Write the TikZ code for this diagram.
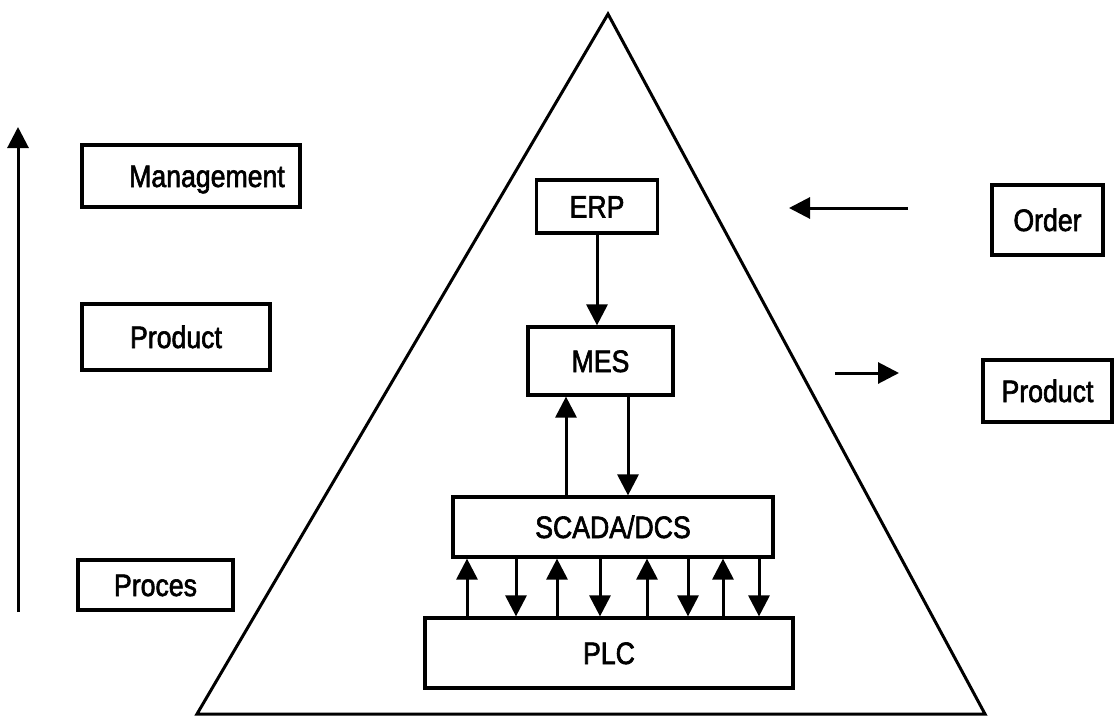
\documentclass[tikz,border=0pt]{standalone}
\usepackage{fontspec}
\setmainfont{Liberation Sans}[FakeStretch=0.86,FakeBold=2]
\usetikzlibrary{arrows.meta}
\begin{document}
\begin{tikzpicture}[x=1pt,y=-1pt,
  box/.style={draw, line width=3.2pt, inner sep=0pt,
    font=\fontsize{31}{32}\selectfont, text height=22pt, text depth=0pt},
  link/.style={line width=3pt, -{Triangle[length=21pt,width=21pt]}},
  edge/.style={line width=3pt, line join=miter}]
\useasboundingbox (0,0) rectangle (1114,717);

% pyramid outline
\coordinate (apex) at (608,14);
\coordinate (bl) at (197,714);
\coordinate (br) at (985,714);
\draw[edge] (bl) -- (apex) -- (br) -- cycle;

% left column: levels
\node[box, minimum width=218pt, minimum height=62pt] (mgmt) at (191,176) {\hspace*{32pt}Management};
\node[box, minimum width=188pt, minimum height=66pt] (prodL) at (176,337) {Product};
\node[box, minimum width=155pt, minimum height=50pt] (proc) at (155.5,585) {Proces};

% vertical axis arrow
\coordinate (axB) at (18,612);
\coordinate (axT) at (18,127);
\draw[link] (axB) -- (axT);

% pyramid layers
\node[box, minimum width=121pt, minimum height=53pt] (erp) at (597,206.5) {ERP};
\node[box, minimum width=145pt, minimum height=68pt] (mes) at (600.5,361) {MES};
\node[box, minimum width=320pt, minimum height=60pt] (scada) at (613,527) {SCADA/DCS};
\node[box, minimum width=368pt, minimum height=70pt] (plc) at (609,653) {PLC};

% ERP -> MES
\draw[link] (erp.south) -- (erp.south |- mes.north);

% MES <-> SCADA/DCS
\path ([xshift=-47pt]scada.north) coordinate (su);
\draw[link] (su) -- (su |- mes.south);
\path ([xshift=15pt]scada.north) coordinate (sd);
\draw[link] (sd |- mes.south) -- (sd);

% SCADA/DCS <-> PLC
\foreach \dx in {-146,-56,34,110} {
  \path ([xshift=\dx pt]scada.south) coordinate (t);
  \draw[link] (t |- plc.north) -- (t);
}
\foreach \dx in {-97,-13,75,146} {
  \path ([xshift=\dx pt]scada.south) coordinate (t);
  \draw[link] (t) -- (t |- plc.north);
}

% right column: order in, product out
\node[box, minimum width=111pt, minimum height=70pt] (order) at (1047.5,220) {Order};
\node[box, minimum width=129pt, minimum height=62pt] (prodR) at (1047.5,391) {Product};
\coordinate (ordA) at (908,208);
\coordinate (ordB) at (789,208);
\draw[link] (ordA) -- (ordB);
\coordinate (outA) at (835,373);
\coordinate (outB) at (899,373);
\draw[link] (outA) -- (outB);
\end{tikzpicture}
\end{document}
